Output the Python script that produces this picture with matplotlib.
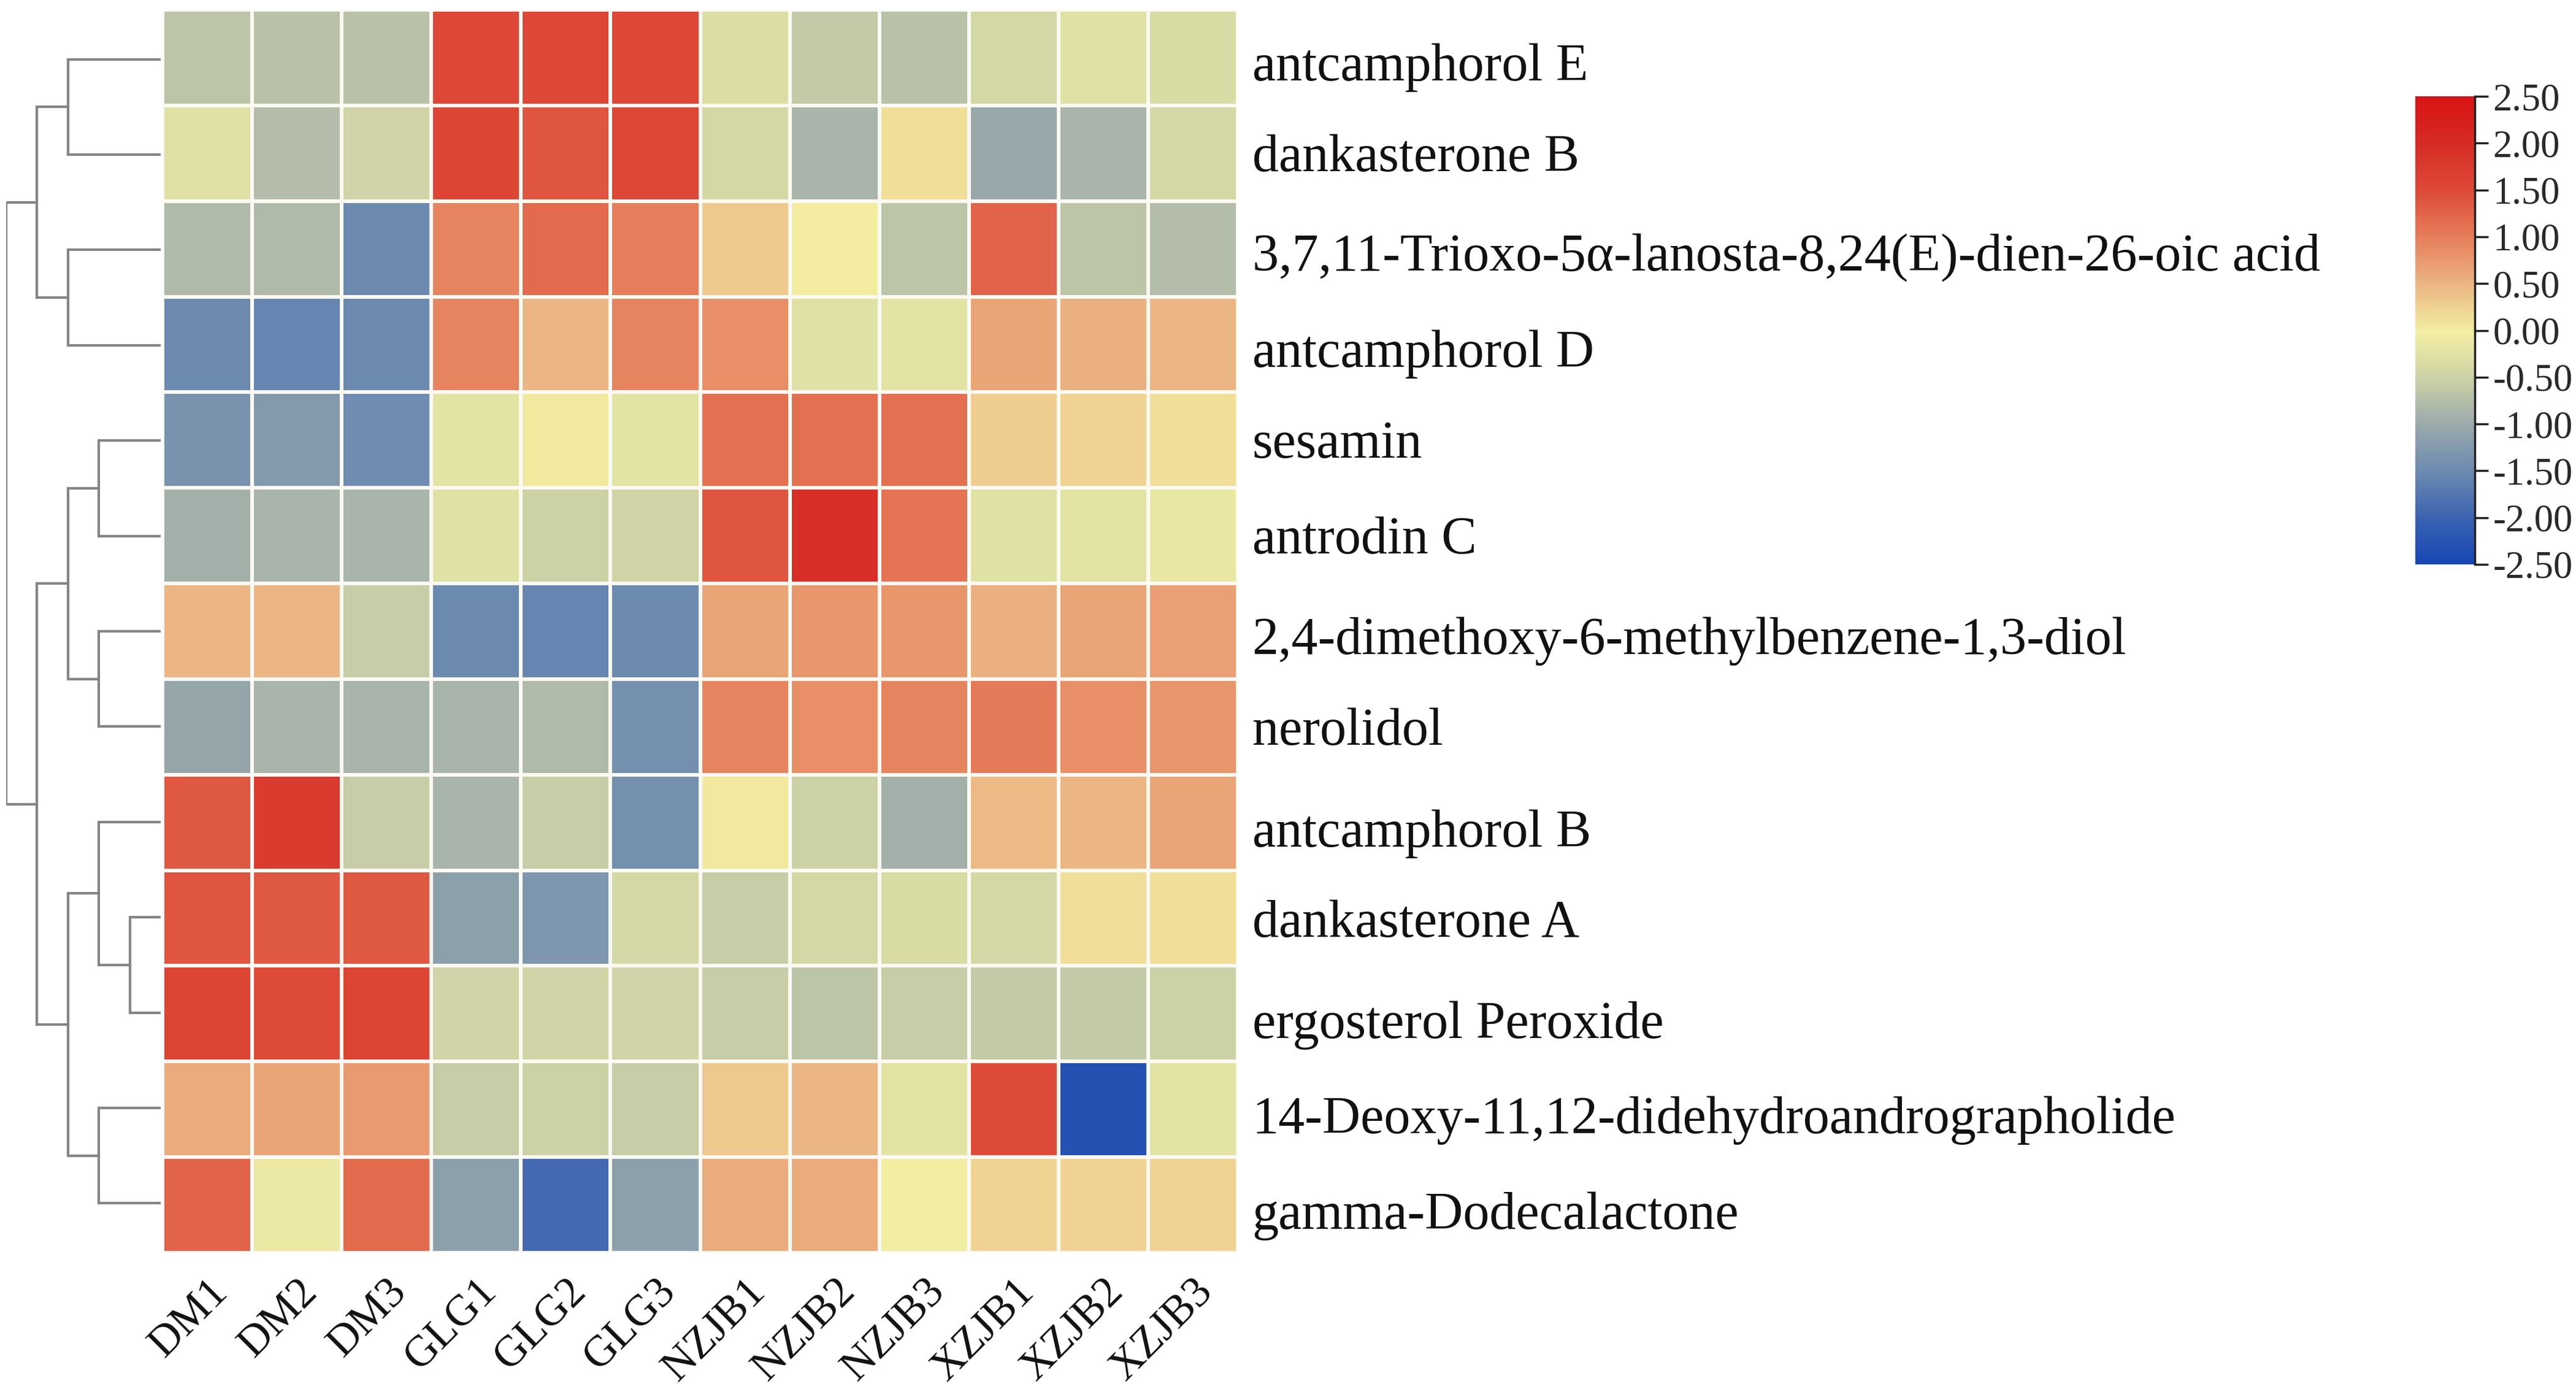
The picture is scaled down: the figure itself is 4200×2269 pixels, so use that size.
"""Clustered heatmap of metabolites across the DM, GLG, NZJB and XZJB samples."""
import matplotlib
matplotlib.use('Agg')
import matplotlib.pyplot as plt
import numpy as np
from matplotlib.colors import LinearSegmentedColormap

SAMPLES = ['DM1', 'DM2', 'DM3', 'GLG1', 'GLG2', 'GLG3',
           'NZJB1', 'NZJB2', 'NZJB3', 'XZJB1', 'XZJB2', 'XZJB3']
COMPOUNDS = ['antcamphorol E', 'dankasterone B',
             '3,7,11-Trioxo-5α-lanosta-8,24(E)-dien-26-oic acid',
             'antcamphorol D', 'sesamin', 'antrodin C',
             '2,4-dimethoxy-6-methylbenzene-1,3-diol', 'nerolidol',
             'antcamphorol B', 'dankasterone A', 'ergosterol Peroxide',
             '14-Deoxy-11,12-didehydroandrographolide',
             'gamma-Dodecalactone']

ROW_0 = [-0.65, -0.7, -0.7, 1.55, 1.55, 1.55, -0.3, -0.6, -0.7, -0.4, -0.25, -0.35]
ROW_1 = [-0.25, -0.75, -0.45, 1.6, 1.4, 1.55, -0.4, -0.85, 0.15, -1.0, -0.85, -0.4]
ROW_2 = [-0.8, -0.8, -1.5, 0.95, 1.2, 1.0, 0.35, 0.03, -0.65, 1.25, -0.65, -0.75]
ROW_3 = [-1.5, -1.55, -1.5, 0.95, 0.5, 0.95, 0.85, -0.25, -0.2, 0.65, 0.55, 0.5]
ROW_4 = [-1.35, -1.25, -1.45, -0.2, 0.05, -0.2, 1.15, 1.15, 1.15, 0.3, 0.25, 0.15]
ROW_5 = [-0.9, -0.85, -0.85, -0.25, -0.5, -0.45, 1.4, 1.95, 1.1, -0.25, -0.2, -0.12]
ROW_6 = [0.5, 0.5, -0.55, -1.5, -1.55, -1.5, 0.65, 0.8, 0.8, 0.55, 0.65, 0.7]
ROW_7 = [-1.05, -0.85, -0.85, -0.85, -0.8, -1.4, 0.95, 0.85, 0.95, 1.05, 0.85, 0.8]
ROW_8 = [1.35, 1.75, -0.55, -0.85, -0.55, -1.4, 0.05, -0.5, -0.9, 0.45, 0.5, 0.65]
ROW_9 = [1.4, 1.35, 1.35, -1.15, -1.3, -0.4, -0.55, -0.4, -0.35, -0.4, 0.15, 0.15]
ROW_10 = [1.6, 1.5, 1.6, -0.45, -0.45, -0.45, -0.55, -0.65, -0.55, -0.6, -0.6, -0.5]
ROW_11 = [0.6, 0.65, 0.75, -0.55, -0.5, -0.55, 0.35, 0.5, -0.2, 1.5, -2.3, -0.2]
ROW_12 = [1.25, -0.1, 1.2, -1.15, -1.9, -1.15, 0.6, 0.6, -0.03, 0.25, 0.25, 0.25]

# merges as (left node, right node, height): nodes below 13 are rows, the
# rest count up from 13 in the order they are listed here
MERGES = [(0, 1, 3), (2, 3, 3), (13, 14, 4), (4, 5, 2), (6, 7, 2), (16, 17, 3),
          (9, 10, 1), (8, 19, 2), (11, 12, 2), (20, 21, 3), (18, 22, 4),
          (15, 23, 5)]

CBAR_VALUES = [-2.5, -2.0, -1.5, -1.0, -0.5, 0.0, 0.5, 1.0, 1.5, 2.0, 2.5]
CBAR_COLORS = ['#1546b4', '#3a62b0', '#6c8ab0', '#9aa9ab', '#cdd2a6', '#f3efa2',
               '#ecb684', '#e67f5c', '#dd4b38', '#d62c25', '#d81414']

# the row labels do not sit quite centred on their rows in the reference
LABEL_NUDGE = [16, 8, 15, 16, 8, 8, 16, 8, 19, 10, 19, 18, 18]

W, H = 4200, 2269
# the grid lines are also stroked round the outside, so the axes stick out by
# half a line and the outer half gets clipped away
LEFT, RIGHT, TOP, BOTTOM = 265, 2018, 16, 2042
DEND_LEFT, DEND_RIGHT = 10, 262


def draw_dendrogram(ax, merges: list) -> None:
    """Draw the row tree, leaves on the right and root on the left."""
    nodes = {i: (i + 0.5, 0) for i in range(len(COMPOUNDS))}
    for k, (a, b, height) in enumerate(merges):
        ya, ha = nodes[a]
        yb, hb = nodes[b]
        ax.plot([ha, height, height, hb], [ya, ya, yb, yb],
                color='#858585', lw=3, solid_joinstyle='miter')
        nodes[len(COMPOUNDS) + k] = ((ya + yb) / 2, height)
    ax.set_xlim(5, 0)
    ax.set_ylim(len(COMPOUNDS), 0)
    ax.axis('off')


def plot_heatmap() -> None:
    values = np.array([ROW_0, ROW_1, ROW_2, ROW_3, ROW_4, ROW_5, ROW_6,
                       ROW_7, ROW_8, ROW_9, ROW_10, ROW_11, ROW_12])
    cmap = LinearSegmentedColormap.from_list(
        'rdylbu', [((v + 2.5) / 5, c) for v, c in zip(CBAR_VALUES, CBAR_COLORS)])

    plt.rcParams['font.family'] = ['Liberation Serif', 'DejaVu Serif']
    fig = plt.figure(figsize=(W / 100, H / 100), dpi=100)

    ax = fig.add_axes([LEFT / W, 1 - BOTTOM / H, (RIGHT - LEFT) / W, (BOTTOM - TOP) / H])
    mesh = ax.pcolormesh(values, cmap=cmap, vmin=-2.5, vmax=2.5,
                         edgecolors='#fbfaf3', linewidth=4.2)
    ax.set_xlim(0, len(SAMPLES))
    ax.set_ylim(len(COMPOUNDS), 0)
    for spine in ax.spines.values():
        spine.set_visible(False)
    ax.tick_params(length=0)
    ax.set_yticks([])
    ax.set_xticks(np.arange(len(SAMPLES)) + 0.5)
    ax.set_xticklabels(SAMPLES, rotation=45, ha='right', rotation_mode='anchor',
                       fontsize=51, color='#111111')
    ax.tick_params(axis='x', pad=22)

    for i, name in enumerate(COMPOUNDS):
        ax.annotate(name, (1, i + 0.5), xycoords=('axes fraction', 'data'),
                    xytext=(17, -LABEL_NUDGE[i] * 0.72), textcoords='offset points',
                    ha='left', va='center', fontsize=62, color='#111111')

    dend = fig.add_axes([DEND_LEFT / W, 1 - 2039 / H, (DEND_RIGHT - DEND_LEFT) / W,
                         (2039 - 19) / H])
    draw_dendrogram(dend, MERGES)

    cax = fig.add_axes([3938 / W, 1 - 920 / H, 97 / W, 763 / H])
    cbar = fig.colorbar(mesh, cax=cax, ticks=CBAR_VALUES)
    cbar.outline.set_visible(False)
    cbar.solids.set_edgecolor('face')
    cax.spines['right'].set_visible(True)
    cax.spines['right'].set_color('#222222')
    cax.spines['right'].set_linewidth(2.5)
    cbar.ax.set_yticklabels([f'{v:.2f}' for v in CBAR_VALUES])
    cax.tick_params(axis='y', length=16, width=2.5, color='#222222', pad=5,
                    labelsize=45, labelcolor='#2a2a2a')

    fig.savefig('out.png', dpi=100, facecolor='white')


if __name__ == '__main__':
    plot_heatmap()
